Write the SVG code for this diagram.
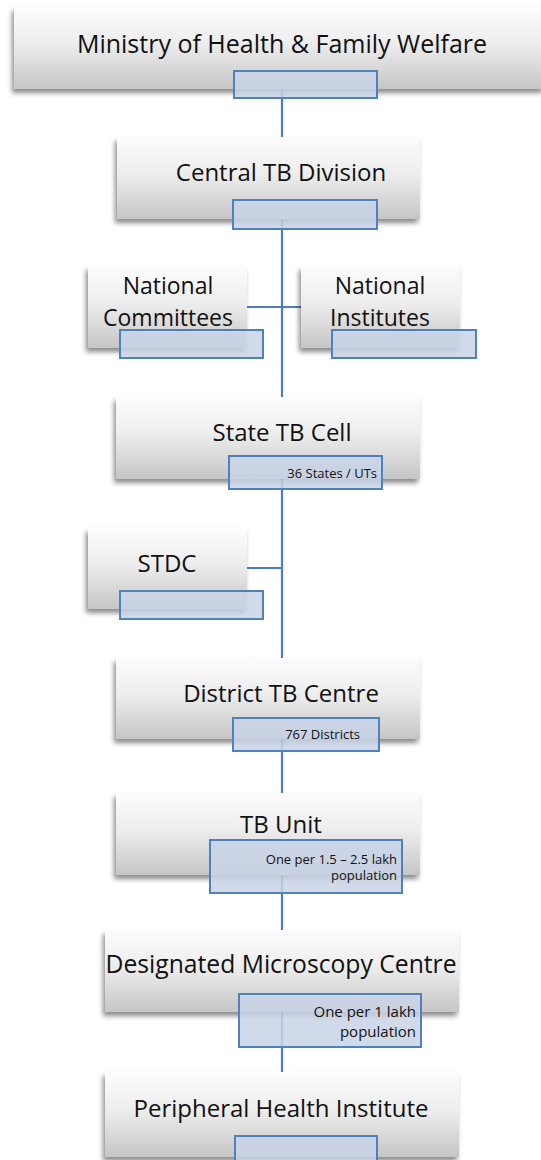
<svg xmlns="http://www.w3.org/2000/svg" width="541" height="1160" viewBox="0 0 541 1160">
<style>
.box{fill:url(#g);filter:url(#sh)}
.tag{fill:#c9d3e6;fill-opacity:0.85;stroke:#4f81bd;stroke-width:2}
.t{font-family:"Open Sans","Liberation Sans",sans-serif;font-size:24px;fill:#111;text-anchor:middle}
.t2{font-size:23px}
.s{font-family:"Open Sans","Liberation Sans",sans-serif;font-size:13px;fill:#111;text-anchor:end}
.c{stroke:#4a7ebb;stroke-width:2.2;fill:none}
</style>
<defs>
<linearGradient id="g" x1="0" y1="0" x2="0" y2="1">
<stop offset="0" stop-color="#fdfdfd"/>
<stop offset="0.45" stop-color="#ededed"/>
<stop offset="1" stop-color="#c6c6c6"/>
</linearGradient>
<filter id="sh" x="-10%" y="-10%" width="120%" height="130%">
<feDropShadow dx="-2" dy="4" stdDeviation="2.5" flood-color="#000" flood-opacity="0.45"/>
</filter>
</defs>
<rect width="541" height="1160" fill="#fff"/>
<g id="connectors">
<line class="c" x1="282" y1="89" x2="282" y2="137"/>
<line class="c" x1="282" y1="219" x2="282" y2="397"/>
<line class="c" x1="247" y1="307" x2="301" y2="307"/>
<line class="c" x1="282" y1="479" x2="282" y2="658"/>
<line class="c" x1="247" y1="568" x2="282" y2="568"/>
<line class="c" x1="282" y1="739" x2="282" y2="793"/>
<line class="c" x1="282" y1="875" x2="282" y2="930"/>
<line class="c" x1="282" y1="1012" x2="282" y2="1072"/>
</g>
<g id="ministry">
<rect class="box" x="14" y="7" width="530" height="82"/>
<text class="t" x="282" y="53" style="font-size:25px">Ministry of Health &amp; Family Welfare</text>
<rect class="tag" x="234" y="71" width="143" height="27"/>
</g>
<g id="central">
<rect class="box" x="117" y="137" width="303" height="82"/>
<text class="t" x="281" y="181">Central TB Division</text>
<rect class="tag" x="233" y="200" width="144" height="29"/>
</g>
<g id="national-committees">
<rect class="box" x="88" y="266" width="159" height="82"/>
<text class="t t2" x="168" y="294">National</text>
<text class="t t2" x="168" y="326">Committees</text>
<rect class="tag" x="120" y="330" width="143" height="28"/>
</g>
<g id="national-institutes">
<rect class="box" x="301" y="266" width="159" height="82"/>
<text class="t t2" x="380" y="294">National</text>
<text class="t t2" x="380" y="326">Institutes</text>
<rect class="tag" x="332" y="330" width="144" height="28"/>
</g>
<g id="state">
<rect class="box" x="116" y="397" width="304" height="82"/>
<text class="t" x="282" y="441">State TB Cell</text>
<rect class="tag" x="229" y="456" width="153" height="33"/>
<text class="s" x="377" y="478">36 States / UTs</text>
</g>
<g id="stdc">
<rect class="box" x="88" y="528" width="159" height="81"/>
<text class="t" x="167" y="572">STDC</text>
<rect class="tag" x="120" y="591" width="143" height="28"/>
</g>
<g id="district">
<rect class="box" x="116" y="658" width="304" height="81"/>
<text class="t" x="281" y="702">District TB Centre</text>
<rect class="tag" x="233" y="718" width="146" height="33"/>
<text class="s" x="360" y="739">767 Districts</text>
</g>
<g id="tb-unit">
<rect class="box" x="116" y="793" width="304" height="82"/>
<text class="t" x="281" y="833">TB Unit</text>
<rect class="tag" x="210" y="840" width="192" height="53"/>
<text class="s" x="397" y="864">One per 1.5 – 2.5 lakh</text>
<text class="s" x="397" y="880">population</text>
</g>
<g id="dmc">
<rect class="box" x="105" y="930" width="354" height="82"/>
<text class="t" x="281" y="973" style="font-size:24.7px">Designated Microscopy Centre</text>
<rect class="tag" x="239" y="994" width="182" height="53"/>
<text class="s" x="416" y="1017" style="font-size:15px">One per 1 lakh</text>
<text class="s" x="416" y="1037" style="font-size:15px">population</text>
</g>
<g id="phi">
<rect class="box" x="105" y="1072" width="354" height="85"/>
<text class="t" x="281" y="1117">Peripheral Health Institute</text>
<rect class="tag" x="235" y="1136" width="142" height="30"/>
</g>
</svg>
